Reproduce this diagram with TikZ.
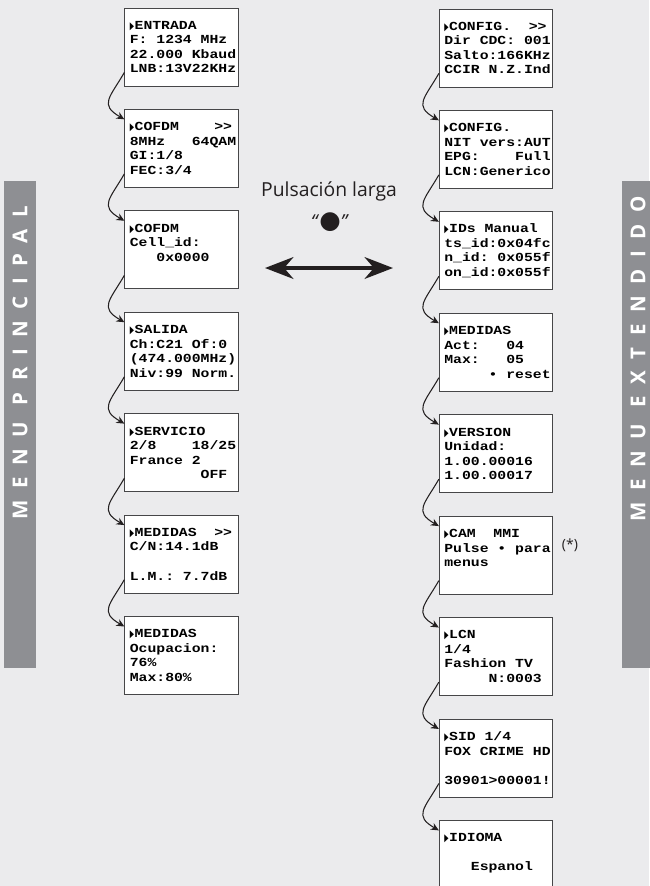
\documentclass[tikz,border=0pt]{standalone}
\usepackage{fontspec}
\setmainfont{Open Sans}
\newfontfamily\lcd[FakeStretch=1.2]{Liberation Mono}
\newfontfamily\symb{DejaVu Sans}
\newfontfamily\barfont[LetterSpace=56]{Open Sans}
\usetikzlibrary{arrows.meta, positioning, calc}
\definecolor{bggray}{RGB}{235,235,237}
\definecolor{bargray}{RGB}{142,143,147}
\definecolor{framegray}{RGB}{70,70,72}
\definecolor{inkblack}{RGB}{35,31,32}
\newcommand{\sel}{\scalebox{0.45}[0.85]{\symb ▶}\kern0.5pt}
\newcommand{\lcdspace}{\def~{\hphantom{0}}}

\begin{document}
\begin{tikzpicture}[
        node distance=0.675cm,
        lcdbox/.style={rectangle, draw=framegray, fill=white, line width=0.8pt, minimum width=3.4cm, minimum height=2.34cm, text width=3.1cm, inner xsep=0.15cm, align=left, font=\lcd\bfseries\fontsize{10.5}{12.4}\selectfont\lcdspace},
        flow/.style={-{Stealth[length=2.4mm, width=2.2mm]}, draw=inkblack, line width=0.9pt, out=240, in=150, looseness=1.6},
        bartext/.style={rotate=90, text=white, font=\barfont\bfseries\fontsize{17.5}{18}\selectfont},
        dbl/.style={{Stealth[length=8.5mm, width=6.5mm]}-{Stealth[length=8.5mm, width=6.5mm]}, draw=inkblack, line width=3.6pt}
    ]
        \useasboundingbox (0,0) rectangle (19.47,-26.58);
        \fill[bggray] (0,0) rectangle (19.47,-26.58);

        % Side bars
        \fill[bargray] (0.12,-5.43) rectangle (1.08,-20.04);
        \fill[bargray] (18.66,-5.43) rectangle (19.62,-20.04);
        \node[bartext] (principal) at (0.6,-10.88) {MENU PRINCIPAL};
        \node[bartext] (extendido) at (19.14,-10.77) {MENU EXTENDIDO};

        % Menu principal
        \node[lcdbox] (entrada) at (5.445,-1.41) {\sel ENTRADA\\F:~1234~MHz\\22.000~Kbaud\\LNB:13V22KHz};
        \node[lcdbox, below=of entrada] (cofdm) {\sel COFDM~~~~>\kern0pt>\\8MHz~~~64QAM\\GI:1/8\\FEC:3/4};
        \node[lcdbox, below=of cofdm] (cellid) {\sel COFDM\\Cell\_id:\\~~~0x0000\\~};
        \node[lcdbox, below=of cellid] (salida) {\sel SALIDA\\Ch:C21~Of:0\\(474.000MHz)\\Niv:99~Norm.};
        \node[lcdbox, below=of salida] (servicio) {\sel SERVICIO\\2/8~~~~18/25\\France~2\\~~~~~~~~OFF};
        \node[lcdbox, below=of servicio] (medidas) {\sel MEDIDAS~~>\kern0pt>\\C/N:14.1dB\\~\\L.M.:~7.7dB};
        \node[lcdbox, below=of medidas] (ocupacion) {\sel MEDIDAS\\Ocupacion:\\76\%\\Max:80\%};

        % Menu extendido
        \node[lcdbox] (config) at (14.88,-1.44) {\sel CONFIG.~~>\kern0pt>\\Dir~CDC:~001\\Salto:166KHz\\CCIR~N.Z.Ind};
        \node[lcdbox, below=of config] (nit) {\sel CONFIG.\\NIT~vers:AUT\\EPG:~~~~Full\\LCN:Generico};
        \node[lcdbox, below=of nit] (ids) {\sel IDs~Manual\\ts\_id:0x04fc\\n\_id:~0x055f\\on\_id:0x055f};
        \node[lcdbox, below=of ids] (maxact) {\sel MEDIDAS\\Act:~~~04\\Max:~~~05\\~~~~~•~reset};
        \node[lcdbox, below=of maxact] (version) {\sel VERSION\\Unidad:\\1.00.00016\\1.00.00017};
        \node[lcdbox, below=of version] (cam) {\sel CAM~~MMI\\Pulse~•~para\\menus\\~};
        \node[lcdbox, below=of cam] (lcn) {\sel LCN\\1/4\\Fashion~TV\\~~~~~N:0003};
        \node[lcdbox, below=of lcn] (sid) {\sel SID~1/4\\FOX~CRIME~HD\\~\\30901>00001!};
        \node[lcdbox, below=of sid] (idioma) {\sel IDIOMA\\~\\~~~Espanol\\~};

        % Pulsacion larga
        \node[font=\fontsize{16.5}{18}\selectfont, text=inkblack] (pulsa) at (9.87,-5.73) {Pulsación larga};
        \node[font=\fontsize{16.5}{18}\selectfont, text=inkblack] (boton) at (9.9,-6.66) {\textit{“}{\symb\fontsize{21}{21}\selectfont ●}\textit{”}};
        \coordinate (izq) at (7.95,-8.04);
        \coordinate (der) at (11.79,-8.04);
        \draw[dbl] (izq) -- (der);
        \node[font=\fontsize{12}{14}\selectfont, text=inkblack] (nota) at (17.1,-16.35) {(*)};

        % Arrows
        \draw[flow] (entrada.204) to (cofdm.153);
        \draw[flow] (cofdm.204) to (cellid.153);
        \draw[flow] (cellid.204) to (salida.153);
        \draw[flow] (salida.204) to (servicio.153);
        \draw[flow] (servicio.204) to (medidas.153);
        \draw[flow] (medidas.204) to (ocupacion.153);
        \draw[flow] (config.204) to (nit.153);
        \draw[flow] (nit.204) to (ids.153);
        \draw[flow] (ids.204) to (maxact.153);
        \draw[flow] (maxact.204) to (version.153);
        \draw[flow] (version.204) to (cam.153);
        \draw[flow] (cam.204) to (lcn.153);
        \draw[flow] (lcn.204) to (sid.153);
        \draw[flow] (sid.204) to (idioma.153);
\end{tikzpicture}
\end{document}
